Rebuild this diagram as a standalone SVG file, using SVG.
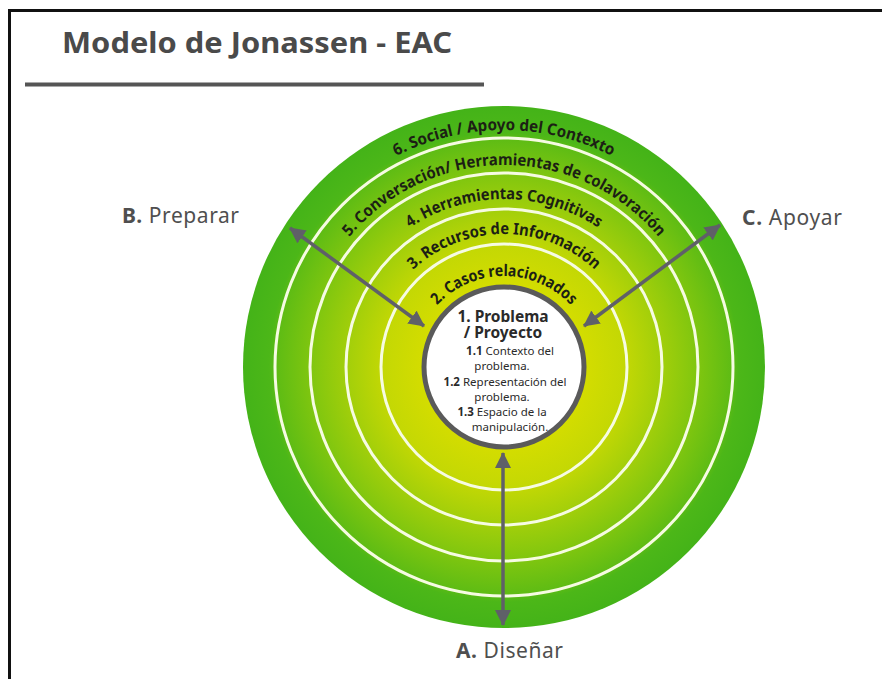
<svg xmlns="http://www.w3.org/2000/svg" width="882" height="679" viewBox="0 0 882 679">
<style>
.lbl{font-family:"Noto Sans","Open Sans","DejaVu Sans",sans-serif;font-size:21px;fill:#4f4f4f}
.b{font-weight:bold}
.arc{font-family:"Noto Sans","Open Sans","DejaVu Sans",sans-serif;font-size:16px;font-weight:bold;fill:#1c1f14}
.ctr{font-family:"Noto Sans","Open Sans","DejaVu Sans",sans-serif;fill:#2a2a2a;text-anchor:middle}
.ring{fill:none;stroke:#f6fbe2;stroke-width:3}
.con{stroke:#5f6068;stroke-width:3.5;fill:none;marker-start:url(#ah);marker-end:url(#ah)}
</style>
<defs>
<radialGradient id="g" cx="504" cy="367" r="261" gradientUnits="userSpaceOnUse">
<stop offset="0.3" stop-color="#d5dd00"/>
<stop offset="0.46" stop-color="#c4d804"/>
<stop offset="0.6" stop-color="#a3cf0a"/>
<stop offset="0.74" stop-color="#80c60f"/>
<stop offset="0.87" stop-color="#5fbc14"/>
<stop offset="0.9" stop-color="#4cb718"/>
<stop offset="1" stop-color="#44b318"/>
</radialGradient>
<marker id="ah" viewBox="0 0 16 16" refX="15" refY="8" markerWidth="16" markerHeight="16" markerUnits="userSpaceOnUse" orient="auto-start-reverse">
<path d="M0,0 L16,8 L0,16 z" fill="#5f6068"/>
</marker>
<path id="p6" d="M267,367 A237,237 0 0 1 741,367"/>
<path id="p5" d="M302,367 A202,202 0 0 1 706,367"/>
<path id="p4" d="M336,367 A168,168 0 0 1 672,367"/>
<path id="p3" d="M371,367 A133,133 0 0 1 637,367"/>
<path id="p2" d="M413,367 A91,91 0 0 1 595,367"/>
</defs>
<rect x="0" y="0" width="882" height="679" fill="#ffffff"/>
<g id="frame">
<line x1="9.5" y1="9" x2="9.5" y2="679" stroke="#111" stroke-width="3"/>
<line x1="8" y1="10.5" x2="882" y2="10.5" stroke="#111" stroke-width="3"/>
</g>
<g id="title">
<text x="62" y="53" font-family="Noto Sans, Open Sans, sans-serif" font-size="28" font-weight="bold" fill="#4a4a4a" textLength="390" lengthAdjust="spacingAndGlyphs">Modelo de Jonassen - EAC</text>
<line x1="25" y1="84.5" x2="484" y2="84.5" stroke="#555" stroke-width="4"/>
</g>
<g id="rings">
<circle cx="504" cy="367" r="261" fill="url(#g)"/>
<circle class="ring" cx="504" cy="367" r="229"/>
<circle class="ring" cx="504" cy="367" r="194"/>
<circle class="ring" cx="504" cy="367" r="158"/>
<circle class="ring" cx="504" cy="367" r="123"/>
</g>
<g id="ring6"><text class="arc"><textPath href="#p6" startOffset="50%" text-anchor="middle" textLength="224" lengthAdjust="spacingAndGlyphs">6. Social / Apoyo del Contexto</textPath></text></g>
<g id="ring5"><text class="arc"><textPath href="#p5" startOffset="50%" text-anchor="middle" textLength="352" lengthAdjust="spacingAndGlyphs">5. Conversación/ Herramientas de colavoración</textPath></text></g>
<g id="ring4"><text class="arc"><textPath href="#p4" startOffset="50%" text-anchor="middle" textLength="200" lengthAdjust="spacingAndGlyphs">4. Herramientas Cognitivas</textPath></text></g>
<g id="ring3"><text class="arc"><textPath href="#p3" startOffset="50%" text-anchor="middle" textLength="200" lengthAdjust="spacingAndGlyphs">3. Recursos de Información</textPath></text></g>
<g id="ring2"><text class="arc"><textPath href="#p2" startOffset="50%" text-anchor="middle" textLength="150" lengthAdjust="spacingAndGlyphs">2. Casos relacionados</textPath></text></g>
<g id="problema">
<circle cx="504" cy="367" r="80" fill="#ffffff" stroke="#5a5a5a" stroke-width="5"/>
<text class="ctr" font-size="15.5" font-weight="bold" x="503" y="322">1. Problema</text>
<text class="ctr" font-size="15.5" font-weight="bold" x="503" y="338">/ Proyecto</text>
<text class="ctr" font-size="11.5" x="510" y="355"><tspan font-weight="bold">1.1</tspan> Contexto del</text>
<text class="ctr" font-size="11.5" x="502" y="370">problema.</text>
<text class="ctr" font-size="11.5" x="505" y="386"><tspan font-weight="bold">1.2</tspan> Representación del</text>
<text class="ctr" font-size="11.5" x="502" y="401">problema.</text>
<text class="ctr" font-size="11.5" x="502" y="416"><tspan font-weight="bold">1.3</tspan> Espacio de la</text>
<text class="ctr" font-size="11.5" x="510" y="431">manipulación.</text>
</g>
<g id="connectors">
<line class="con" x1="424" y1="326" x2="290" y2="228"/>
<line class="con" x1="584" y1="326" x2="720" y2="225"/>
<line class="con" x1="503" y1="453" x2="503" y2="625"/>
</g>
<g id="labelB"><text class="lbl" x="122" y="223" textLength="117"><tspan class="b">B.</tspan> Preparar</text></g>
<g id="labelC"><text class="lbl" x="742" y="225" textLength="100"><tspan class="b">C.</tspan> Apoyar</text></g>
<g id="labelA"><text class="lbl" x="456" y="658" textLength="107"><tspan class="b">A.</tspan> Diseñar</text></g>
</svg>
